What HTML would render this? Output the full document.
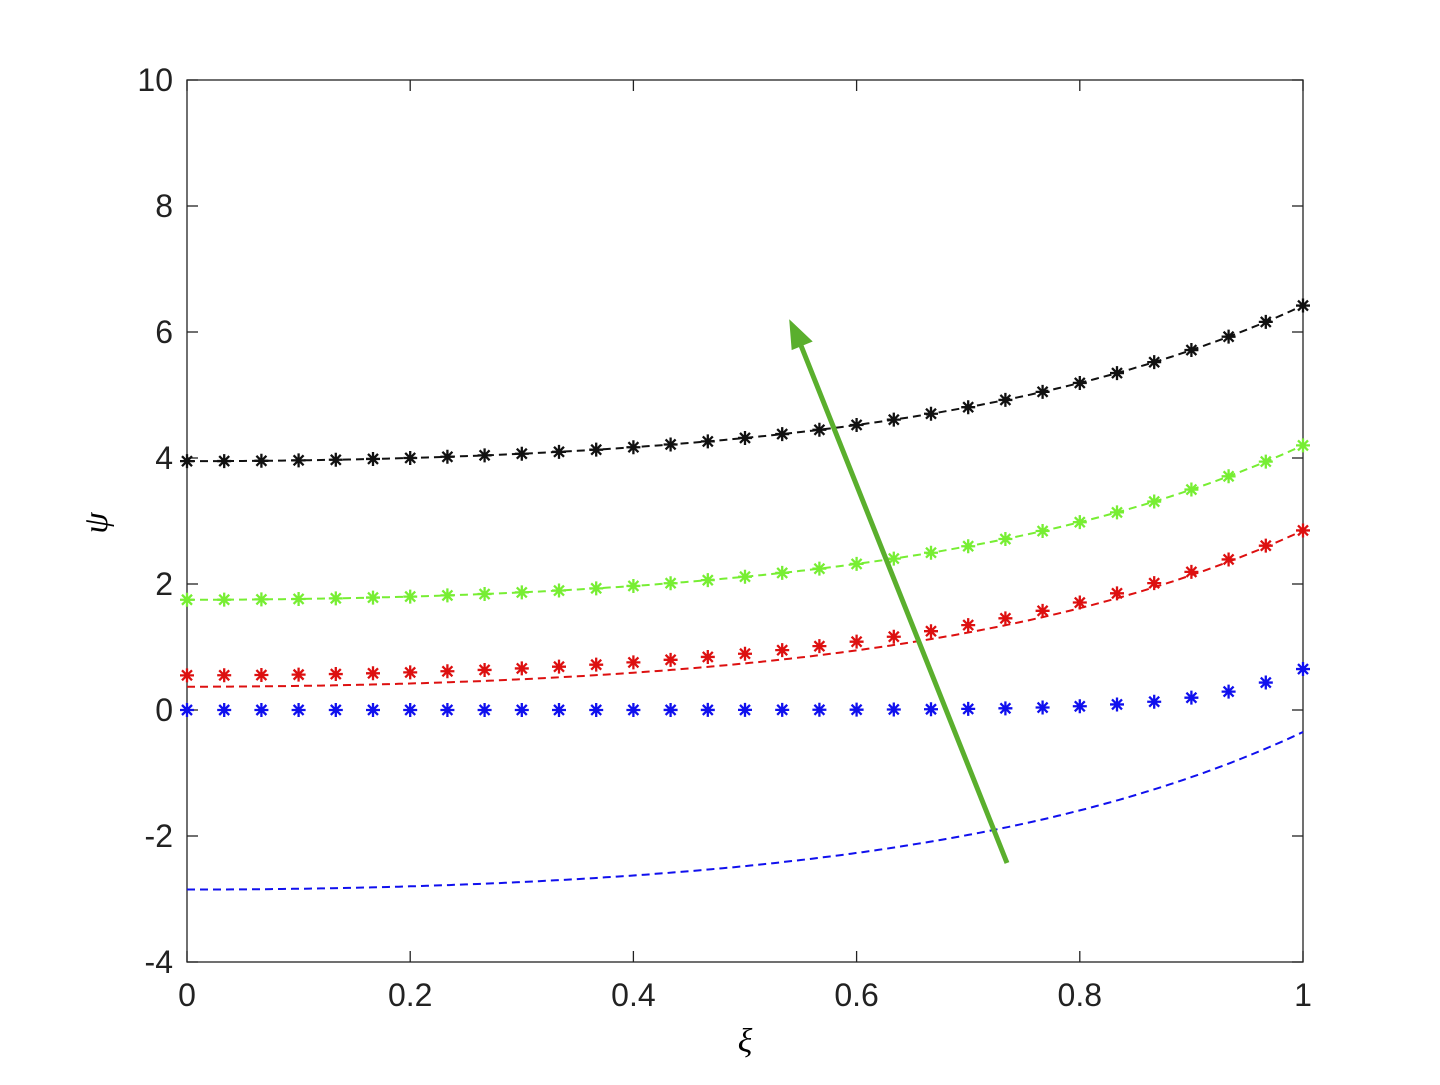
<!DOCTYPE html>
<html><head><meta charset="utf-8"><style>
html,body{margin:0;padding:0;background:#fff;}
svg text{font-family:"Liberation Sans",sans-serif;}
</style></head><body>
<svg id="s" width="1440" height="1080" xmlns="http://www.w3.org/2000/svg">
<rect width="1440" height="1080" fill="#fff"/>
<rect x="187" y="80" width="1116" height="882" fill="none" stroke="#222" stroke-width="1.3"/>
<g id="ticks" stroke="#222" stroke-width="1.3"></g>
<g id="labels" font-size="32" fill="#222"></g>
<g id="series"></g>
<text x="107" y="523" font-size="34" font-style="italic" transform="rotate(-90 107 523)" text-anchor="middle" style="font-family:'Liberation Serif',serif">ψ</text>
<text x="745" y="1052" font-size="34" font-style="italic" text-anchor="middle" style="font-family:'Liberation Serif',serif">ξ</text>
<line x1="1007" y1="863" x2="800" y2="343" stroke="#5aaf2d" stroke-width="5"/>
<polygon points="791,323 810,341 793,348" fill="#5aaf2d" stroke="#5aaf2d" stroke-width="3"/>
</svg>
<script>
var NS="http://www.w3.org/2000/svg";
function X(x){return 187+1116*x;}
function Y(y){return 710-63*y;}
function el(p,t,a){var e=document.createElementNS(NS,t);for(var k in a)e.setAttribute(k,a[k]);p.appendChild(e);return e;}
var tk=document.getElementById('ticks'),lb=document.getElementById('labels'),sr=document.getElementById('series');
for(var i=0;i<=5;i++){var x=X(i*0.2);el(tk,'line',{x1:x,y1:962,x2:x,y2:951});el(tk,'line',{x1:x,y1:80,x2:x,y2:91});
var t=el(lb,'text',{x:x,y:1006,'text-anchor':'middle'});t.textContent=['0','0.2','0.4','0.6','0.8','1'][i];}
for(var v=-4;v<=10;v+=2){var y=Y(v);el(tk,'line',{x1:187,y1:y,x2:198,y2:y});el(tk,'line',{x1:1303,y1:y,x2:1292,y2:y});
var t=el(lb,'text',{x:173,y:y+11,'text-anchor':'end'});t.textContent=String(v);}
function f(a,b,k){return function(x){return a+(b-a)*(Math.cosh(k*x)-1)/(Math.cosh(k)-1);};}
function dashed(fn,c){var d='';for(var i=0;i<=200;i++){var x=i/200;d+=(i?'L':'M')+X(x).toFixed(1)+','+Y(fn(x)).toFixed(1);}
el(sr,'path',{d:d,fill:'none',stroke:c,'stroke-width':2,'stroke-dasharray':'8,5'});}
function stars(fn,c){for(var i=0;i<=30;i++){var x=i/30,px=X(x),py=Y(fn(x)),r=7,r2=5;
el(sr,'path',{d:'M'+(px-r)+','+py+'h'+2*r+'M'+px+','+(py-r)+'v'+2*r+'M'+(px-r2)+','+(py-r2)+'l'+2*r2+','+2*r2+'M'+(px-r2)+','+(py+r2)+'l'+2*r2+','+(-2*r2),stroke:c,'stroke-width':2.3});}}
dashed(f(-2.85,-0.35,3),'#1010ee');
stars(function(x){return 0.65*Math.exp(12*(x-1));},'#1010ee');
dashed(f(0.37,2.85,3),'#dd1010');stars(f(0.55,2.85,3),'#dd1010');
dashed(f(1.75,4.2,3),'#77ee33');stars(f(1.75,4.2,3),'#77ee33');
dashed(f(3.95,6.42,3),'#111');stars(f(3.95,6.42,3),'#111');
</script>
</body></html>
